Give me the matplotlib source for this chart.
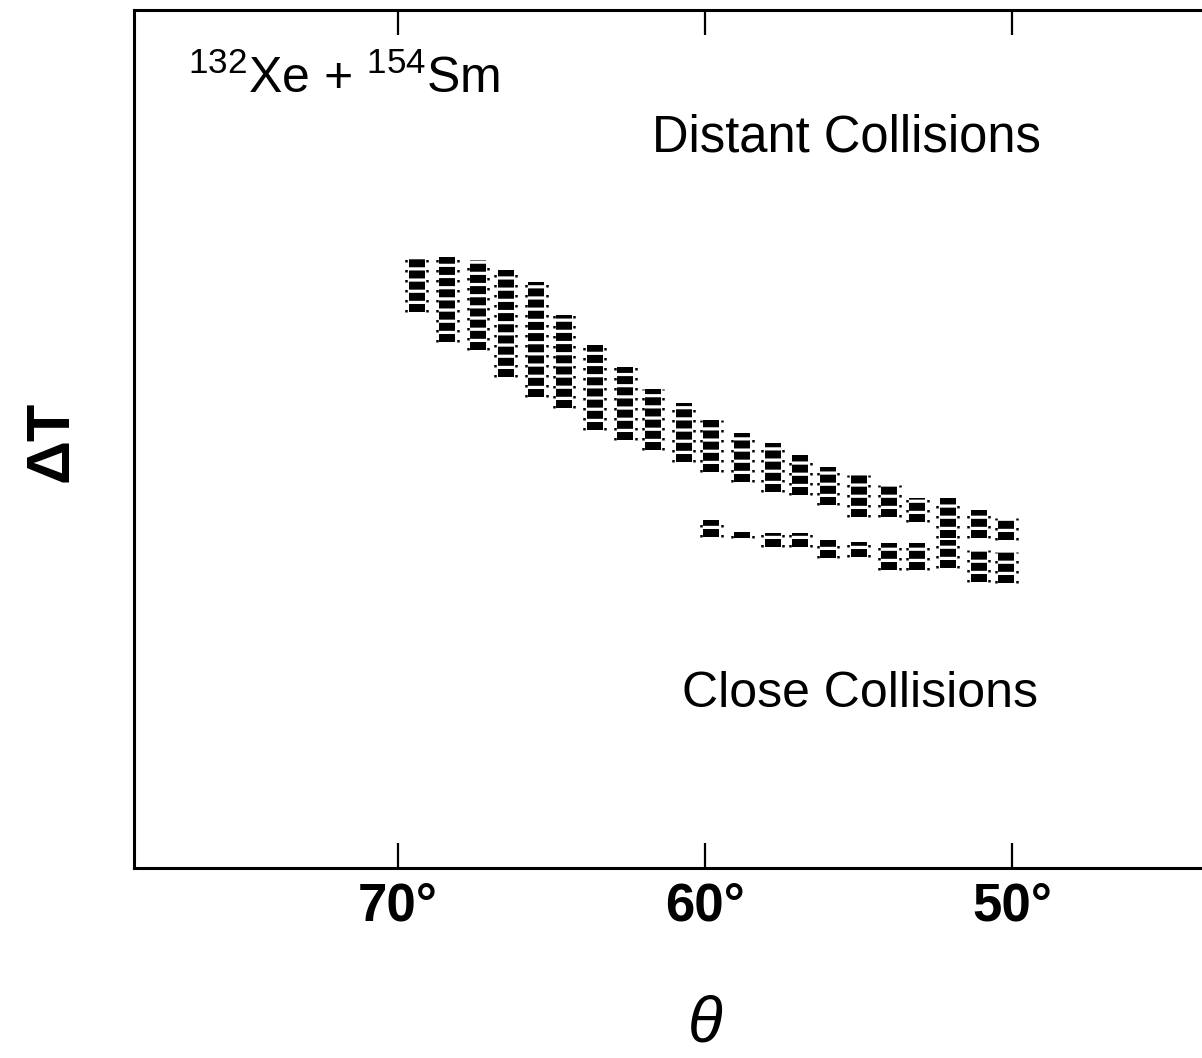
import matplotlib
matplotlib.use('Agg')
import matplotlib.pyplot as plt

plt.rcParams['font.family'] = ['Liberation Sans', 'DejaVu Sans']
plt.rcParams['mathtext.fontset'] = 'custom'
plt.rcParams['mathtext.rm'] = 'Liberation Sans'

# Upper (distant-collision) ridge: column angle (deg), top and bottom of the band (arb. units of Delta T)
upper_theta = [69.4, 68.4, 67.4, 66.5, 65.5, 64.6, 63.6, 62.6, 61.7, 60.7, 59.8,
               58.8, 57.8, 56.9, 56.0, 55.0, 54.0, 53.1, 52.1, 51.1, 50.2]
upper_top = [71.1, 71.2, 70.9, 69.7, 68.3, 64.5, 61.0, 58.4, 55.8, 54.2, 52.2,
             50.7, 49.5, 48.1, 46.7, 45.8, 44.6, 43.1, 43.1, 41.7, 40.8]
upper_bottom = [64.8, 61.3, 60.4, 57.2, 54.9, 53.6, 51.0, 49.9, 48.7, 47.3, 46.2,
                45.0, 43.8, 43.5, 42.3, 40.9, 40.9, 40.3, 38.5, 38.5, 38.2]

# Lower (close-collision) branch
lower_theta = [59.8, 58.8, 57.8, 56.9, 56.0, 55.0, 54.0, 53.1, 52.1, 51.1, 50.2]
lower_top = [40.6, 39.2, 39.0, 39.0, 38.2, 38.0, 37.9, 37.9, 38.2, 37.1, 36.8]
lower_bottom = [38.6, 38.5, 37.4, 37.4, 36.1, 36.2, 34.7, 34.7, 35.0, 33.3, 33.2]

xticks = [70, 60, 50]
xtick_labels = ['70°', '60°', '50°']

fig = plt.figure(figsize=(12.02, 10.58), dpi=100)
ax = fig.add_axes([134 / 1202, 190 / 1058, (1215 - 134) / 1202, 858 / 1058])
ax.set_xlim(78.6, 43.4)
ax.set_ylim(0, 100)

blob = dict(colors='black', linewidth=11.5, linestyles=[(0, (0.5, 0.2))], capstyle='butt')
dots = dict(colors='black', linewidth=1.8, linestyles=[(0, (1, 3))])
off = 0.34
for th, t, b in zip(upper_theta, upper_top, upper_bottom):
    ax.vlines(th, b, t, **blob)
    ax.vlines([th - off, th + off], b, t, **dots)
for th, t, b in zip(lower_theta, lower_top, lower_bottom):
    ax.vlines(th, b, t, **blob)
    ax.vlines([th - off, th + off], b, t, **dots)

for s in ['left', 'bottom', 'top']:
    ax.spines[s].set_linewidth(2.2)
ax.spines['right'].set_visible(False)

ax.set_xticks(xticks)
ax.set_xticklabels(xtick_labels, fontsize=38, fontweight='bold')
ax.tick_params(axis='x', direction='in', length=18, width=1.6, top=True, pad=10)
ax.set_yticks([])

ax.text(188 / 1202, 1 - 93 / 1058, '$^{132}$Xe + $^{154}$Sm', transform=fig.transFigure,
        fontsize=36, ha='left', va='baseline')
ax.text(652 / 1202, 1 - 152 / 1058, 'Distant Collisions', transform=fig.transFigure,
        fontsize=36.5, ha='left', va='baseline')
ax.text(682 / 1202, 1 - 707 / 1058, 'Close Collisions', transform=fig.transFigure,
        fontsize=36, ha='left', va='baseline')

fig.text(52 / 1202, 1 - 441 / 1058, 'ΔT', rotation=90, fontsize=44, fontweight='bold',
         ha='center', va='center')
fig.text(705 / 1202, 1 - 1025 / 1058, 'θ', fontsize=46, fontstyle='italic',
         ha='center', va='center')

fig.savefig('out.png', dpi=100)
